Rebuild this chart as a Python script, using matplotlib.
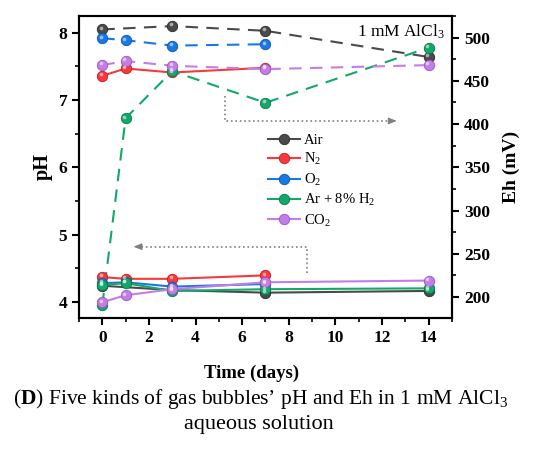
import matplotlib
matplotlib.use("Agg")
import matplotlib.pyplot as plt
import matplotlib.transforms as mtransforms
from matplotlib.ticker import MultipleLocator

plt.rcParams['font.family'] = ['Liberation Serif', 'DejaVu Serif']
plt.rcParams['mathtext.fontset'] = 'custom'
plt.rcParams['mathtext.rm'] = 'Liberation Serif'
plt.rcParams['mathtext.it'] = 'Liberation Serif:italic'
plt.rcParams['mathtext.bf'] = 'Liberation Serif:bold'

# ---- data ----
gases = ["Air", "N$_2$", "O$_2$", "Ar + 8% H$_2$", "CO$_2$"]
colors = ["#4a4a4a", "#f5393c", "#1a78e6", "#12a86a", "#c27ee6"]
edge_colors = ["#2a2a2a", "#c01e20", "#0a55b0", "#0a7a4a", "#9a55c0"]

# pH (left axis, dashed)
ph_days = [
    [0, 3, 7, 14],          # Air
    [0, 1, 3, 7],           # N2
    [0, 1, 3, 7],           # O2
    [0, 1, 3, 7, 14],       # Ar + 8% H2
    [0, 1, 3, 7, 14],       # CO2
]
ph_vals = [
    [8.05, 8.10, 8.03, 7.64],
    [7.36, 7.47, 7.41, 7.48],
    [7.92, 7.89, 7.81, 7.83],
    [3.95, 6.73, 7.43, 6.96, 7.78],
    [7.52, 7.58, 7.51, 7.46, 7.52],
]
ph_styles = ["--", "-", "--", "--", "--"]

# Eh (right axis, solid)
eh_days = [
    [0, 3, 7, 14],
    [0, 1, 3, 7],
    [0, 1, 3, 7],
    [0, 1, 3, 7, 14],
    [0, 1, 3, 7, 14],
]
eh_vals = [
    [213, 208, 205, 207],
    [223, 221, 221, 225],
    [216, 217, 212, 215],
    [214, 216, 207, 209, 210],
    [194, 202, 209, 217, 219],
]

x_ticks = [0, 2, 4, 6, 8, 10, 12, 14]
ph_ticks = [4, 5, 6, 7, 8]
eh_ticks = [200, 250, 300, 350, 400, 450, 500]

fig = plt.figure(figsize=(5.5, 4.61), dpi=100)
ax1 = fig.add_axes([0.1436, 0.3102, 0.6782, 0.6551])
ax2 = ax1.twinx()

ms = 7.5
hl_off = mtransforms.ScaledTranslation(-1.2 / 72, 1.2 / 72, fig.dpi_scale_trans)


def highlight(ax, xs, ys):
    ax.plot(xs, ys, ls='none', marker='o', ms=2.6, mfc='white', mec='none',
            alpha=0.55, zorder=4, transform=ax.transData + hl_off)


for i in range(len(gases)):
    kw = dict(dashes=(6, 4)) if ph_styles[i] == "--" else dict(ls='-')
    ax1.plot(ph_days[i], ph_vals[i], color=colors[i], lw=1.5,
             marker='o', ms=ms, mfc=colors[i], mec=edge_colors[i], mew=0.6, zorder=3, **kw)
    highlight(ax1, ph_days[i], ph_vals[i])
for i in range(len(gases)):
    ax2.plot(eh_days[i], eh_vals[i], ls='-', color=colors[i], lw=1.5,
             marker='o', ms=ms, mfc=colors[i], mec=edge_colors[i], mew=0.6, zorder=3)
    highlight(ax2, eh_days[i], eh_vals[i])

ax1.set_xlim(-1, 15)
ax1.set_ylim(3.76, 8.25)
ax2.set_ylim(175.7, 525)

ax1.set_xticks(x_ticks)
ax1.set_yticks(ph_ticks)
ax2.set_yticks(eh_ticks)
ax1.xaxis.set_minor_locator(MultipleLocator(1))
ax1.yaxis.set_minor_locator(MultipleLocator(0.5))
ax2.yaxis.set_minor_locator(MultipleLocator(25))

for ax in (ax1, ax2):
    for sp in ax.spines.values():
        sp.set_linewidth(1.5)
    ax.tick_params(which='major', direction='out', length=5, width=1.5, labelsize=12.5)
    ax.tick_params(which='minor', direction='out', length=3, width=1.2)
    for lab in ax.get_xticklabels() + ax.get_yticklabels():
        lab.set_fontweight('bold')

ax1.set_xlabel("Time (days)", fontsize=13.5, fontweight='bold')
ax1.xaxis.set_label_coords((251.5 - 79) / 373, -0.155)
ax1.set_ylabel("pH", fontsize=14.5, fontweight='bold', labelpad=4)
ax2.set_ylabel("Eh (mV)", fontsize=14, fontweight='bold', labelpad=9)

ax1.text(14.7, 7.94, "1 mM AlCl$_3$", ha='right', va='baseline', fontsize=12.5)

# dotted indicator arrows
arrow_col = "#808080"
ax1.plot([5.26, 5.26, 12.5], [7.06, 6.69, 6.69], ls=':', color=arrow_col, lw=1.2)
ax1.annotate("", xy=(12.75, 6.69), xytext=(12.3, 6.69),
             arrowprops=dict(arrowstyle='-|>,head_length=0.5,head_width=0.2', color=arrow_col, lw=0.8))
ax1.plot([8.76, 8.76, 1.5], [4.43, 4.82, 4.82], ls=':', color=arrow_col, lw=1.2)
ax1.annotate("", xy=(1.22, 4.82), xytext=(1.7, 4.82),
             arrowprops=dict(arrowstyle='-|>,head_length=0.5,head_width=0.2', color=arrow_col, lw=0.8))

# legend
handles = [plt.Line2D([], [], color=colors[i], lw=1.5, marker='o', ms=ms,
                      mfc=colors[i], mec=edge_colors[i], mew=0.6) for i in range(len(gases))]
ax1.legend(handles, gases, loc='upper left', bbox_to_anchor=(0.49, 0.63), frameon=False,
           fontsize=10.5, handlelength=2.2, handletextpad=0.3, labelspacing=0.3,
           borderaxespad=0)

fig.text(0.474, 0.134, "($\\mathbf{D}$) Five kinds of gas bubbles\u2019 pH and Eh in 1 mM AlCl$_3$",
         ha='center', va='center', fontsize=15.5)
fig.text(0.47, 0.08, "aqueous solution", ha='center', va='center', fontsize=16)

fig.savefig("out.png", dpi=100)
